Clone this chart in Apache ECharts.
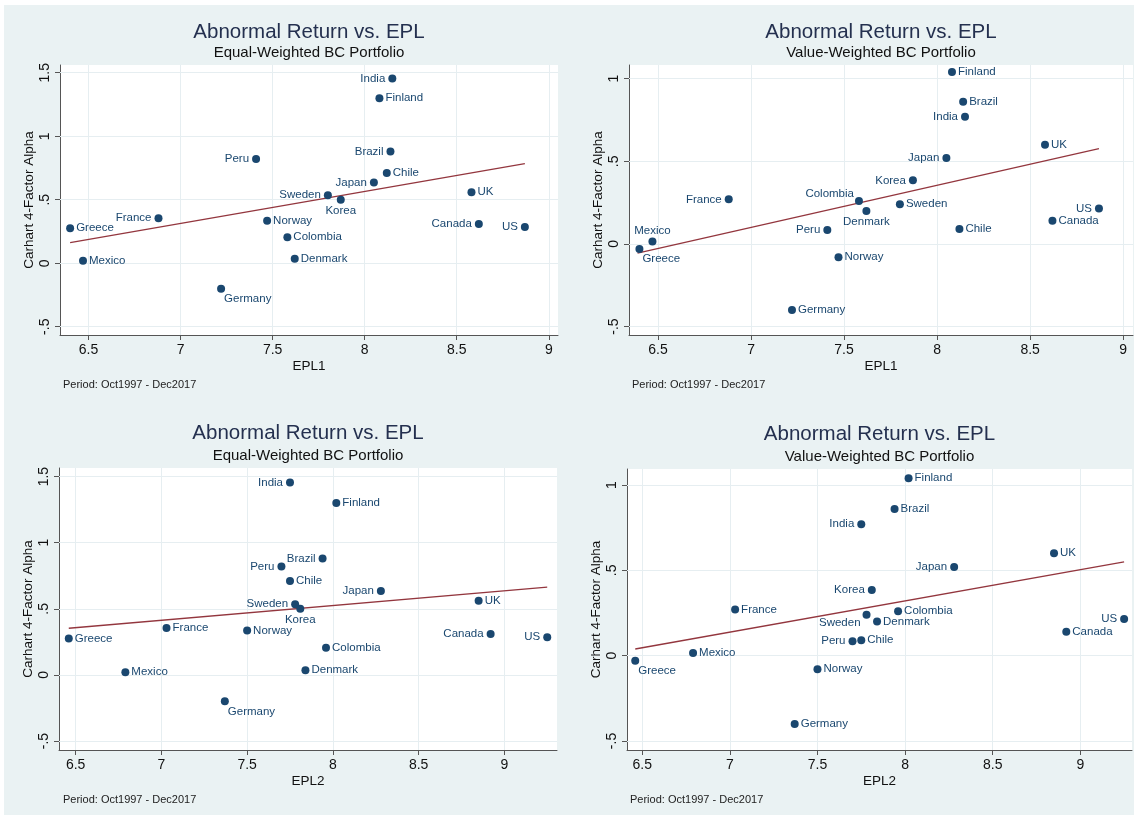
<!DOCTYPE html>
<html>
<head>
<meta charset="utf-8">
<script src="https://cdn.jsdelivr.net/npm/echarts@6/dist/echarts.min.js"></script>
<style>
html,body{margin:0;padding:0;background:#fff;}
#bg{position:absolute;left:4px;top:5px;width:1130px;height:810px;background:#eaf2f3;}
#chart{position:absolute;left:0;top:0;width:1138px;height:820px;}
</style>
</head>
<body>
<div id="bg"></div>
<div id="chart"></div>
<script>
// ---- data ----
const countries = ['India','Finland','Brazil','Peru','Chile','Japan','Sweden','Korea','UK','France','Norway','Greece','Canada','US','Colombia','Mexico','Denmark','Germany'];
const epl1 = [8.15, 8.08, 8.14, 7.41, 8.12, 8.05, 7.80, 7.87, 8.58, 6.88, 7.47, 6.40, 8.62, 8.87, 7.58, 6.47, 7.62, 7.22];
const epl2 = [7.75, 8.02, 7.94, 7.70, 7.75, 8.28, 7.78, 7.81, 8.85, 7.03, 7.50, 6.46, 8.92, 9.25, 7.96, 6.79, 7.84, 7.37];
const alphaEW = [1.455, 1.30, 0.88, 0.82, 0.71, 0.635, 0.535, 0.50, 0.56, 0.355, 0.335, 0.275, 0.31, 0.285, 0.205, 0.02, 0.035, -0.20];
const alphaVW = [0.77, 1.04, 0.86, 0.085, 0.09, 0.52, 0.24, 0.385, 0.60, 0.27, -0.08, -0.03, 0.14, 0.215, 0.26, 0.015, 0.20, -0.40];
// fitted lines (endpoints)
const fitEW1 = [[6.40, 0.162], [8.87, 0.784]];
const fitVW1 = [[6.39, -0.056], [8.87, 0.577]];
const fitEW2 = [[6.46, 0.353], [9.25, 0.664]];
const fitVW2 = [[6.46, 0.039], [9.25, 0.550]];
// tick labels
const xTicks = [6.5, 7, 7.5, 8, 8.5, 9];
const yTicksEW = [-0.5, 0, 0.5, 1, 1.5];
const yTicksVW = [-0.5, 0, 0.5, 1];
const titleText = 'Abnormal Return vs. EPL';
const subEW = 'Equal-Weighted BC Portfolio';
const subVW = 'Value-Weighted BC Portfolio';
const yName = 'Carhart 4-Factor Alpha';
const noteText = 'Period: Oct1997 - Dec2017';

// ---- label placement (style only) ----
const lp1 = {India:'L',Finland:'R',Brazil:'L',Peru:'L',Chile:'R',Japan:'L',Sweden:'L',Korea:'B',UK:'R',France:'L',Norway:'R',Greece:'R',Canada:'L',US:'L',Colombia:'R',Mexico:'R',Denmark:'R',Germany:'BR'};
const lp2 = {Finland:'R',Brazil:'R',India:'L',UK:'R',Japan:'L',Korea:'L',France:'L',Colombia:'TL',Denmark:'B',Sweden:'R',US:'L',Canada:'R',Chile:'R',Peru:'L',Mexico:'T',Greece:'BR',Norway:'R',Germany:'R'};
const lp3 = {India:'L',Finland:'R',Brazil:'L',Peru:'L',Chile:'R',Japan:'L',Sweden:'L',Korea:'B',UK:'R',France:'R',Norway:'R',Greece:'R',Canada:'L',US:'L',Colombia:'R',Mexico:'R',Denmark:'R',Germany:'BR'};
const lp4 = {Finland:'R',Brazil:'R',India:'L',UK:'R',Japan:'L',Korea:'L',France:'R',Colombia:'R',Sweden:'BL',Denmark:'R',US:'L',Canada:'R',Peru:'L',Chile:'R',Mexico:'R',Greece:'BR',Norway:'R',Germany:'R'};

const FONT = '"Liberation Sans", Arial, Helvetica, sans-serif';
const NAVY = '#1a476f';
const MAROON = '#93363e';
const GRIDC = '#e6eef1';
const SYM = 8;

function labelFor(code) {
  const h = SYM / 2;
  switch (code) {
    case 'R': return {position: 'right', distance: 2};
    case 'L': return {position: 'left', distance: 3};
    case 'B': return {position: 'bottom', distance: 1};
    case 'T': return {position: 'top', distance: 1};
    case 'BR': return {position: [h + 3, h + 10], align: 'left', verticalAlign: 'middle'};
    case 'BL': return {position: [h - 6, h + 8], align: 'right', verticalAlign: 'middle'};
    case 'TL': return {position: [h - 5, h - 7], align: 'right', verticalAlign: 'middle'};
  }
  return {position: 'right'};
}
function fmt(v) {
  let s = String(Math.round(v * 100) / 100);
  return s.replace(/^(-?)0\./, '$1.');
}

const panels = [
  {xs: epl1, ys: alphaEW, fit: fitEW1, lp: lp1, yt: yTicksEW, xname: 'EPL1', sub: subEW,
   grid: {left: 60, top: 65, width: 498, height: 270}, xr: [6.345, 9.05], yr: [-0.565, 1.561],
   titleY: 22, subY: 45.5, noteX: 63, noteY: 379.5},
  {xs: epl1, ys: alphaVW, fit: fitVW1, lp: lp2, yt: yTicksVW, xname: 'EPL1', sub: subVW,
   grid: {left: 629, top: 65, width: 504, height: 270}, xr: [6.344, 9.053], yr: [-0.551, 1.083],
   titleY: 21.5, subY: 45, noteX: 632, noteY: 379.5},
  {xs: epl2, ys: alphaEW, fit: fitEW2, lp: lp3, yt: yTicksEW, xname: 'EPL2', sub: subEW,
   grid: {left: 59, top: 468, width: 498, height: 282}, xr: [6.403, 9.307], yr: [-0.568, 1.565],
   titleY: 423, subY: 448.5, noteX: 63, noteY: 794},
  {xs: epl2, ys: alphaVW, fit: fitVW2, lp: lp4, yt: yTicksVW, xname: 'EPL2', sub: subVW,
   grid: {left: 627, top: 469, width: 505, height: 281}, xr: [6.413, 9.295], yr: [-0.553, 1.094],
   titleY: 424, subY: 449, noteX: 630, noteY: 794}
];

const option = {
  backgroundColor: 'transparent',
  animation: false,
  title: [], grid: [], xAxis: [], yAxis: [], series: []
};

panels.forEach((p, i) => {
  const cx = p.grid.left + p.grid.width / 2;
  option.title.push({text: titleText, left: cx, top: p.titleY, textAlign: 'center', padding: 0,
    textStyle: {fontFamily: FONT, fontSize: 20.5, fontWeight: 'normal', color: '#24304f'}});
  option.title.push({text: p.sub, left: cx, top: p.subY, textAlign: 'center', padding: 0,
    textStyle: {fontFamily: FONT, fontSize: 15, fontWeight: 'normal', color: '#111'}});
  option.title.push({text: noteText, left: p.noteX, top: p.noteY, padding: 0,
    textStyle: {fontFamily: FONT, fontSize: 11, fontWeight: 'normal', color: '#222'}});
  option.grid.push(Object.assign({show: true, backgroundColor: '#fff', borderWidth: 0}, p.grid));
  option.xAxis.push({
    gridIndex: i, type: 'value', min: p.xr[0], max: p.xr[1],
    name: p.xname, nameLocation: 'middle', nameGap: 24,
    nameTextStyle: {fontFamily: FONT, fontSize: 13.5, color: '#111'},
    axisLine: {show: true, onZero: false, lineStyle: {color: '#555', width: 1}},
    axisTick: {show: true, length: 5, customValues: xTicks, lineStyle: {color: '#555'}},
    axisLabel: {customValues: xTicks, formatter: fmt, fontFamily: FONT, fontSize: 14, color: '#111', margin: 8},
    splitLine: {show: false}
  });
  option.yAxis.push({
    gridIndex: i, type: 'value', min: p.yr[0], max: p.yr[1],
    name: yName, nameLocation: 'middle', nameGap: 24,
    nameTextStyle: {fontFamily: FONT, fontSize: 13.5, color: '#111'},
    axisLine: {show: true, onZero: false, lineStyle: {color: '#555', width: 1}},
    axisTick: {show: true, length: 5, customValues: p.yt, lineStyle: {color: '#555'}},
    axisLabel: {customValues: p.yt, formatter: fmt, rotate: 90, fontFamily: FONT, fontSize: 14, color: '#111', margin: 8},
    splitLine: {show: false}
  });
  // fitted line, carrying the gridlines as markLines
  option.series.push({
    type: 'line', xAxisIndex: i, yAxisIndex: i, data: p.fit, symbol: 'none', z: 3,
    lineStyle: {color: MAROON, width: 1.3}, silent: true,
    markLine: {
      silent: true, symbol: ['none', 'none'], label: {show: false}, z: 1,
      lineStyle: {color: GRIDC, type: 'solid', width: 1},
      emphasis: {disabled: true},
      data: xTicks.map(v => ({xAxis: v})).concat(p.yt.map(v => ({yAxis: v})))
    }
  });
  option.series.push({
    type: 'scatter', xAxisIndex: i, yAxisIndex: i, z: 5, symbolSize: SYM,
    itemStyle: {color: NAVY, opacity: 1},
    label: {show: true, formatter: '{b}', fontFamily: FONT, fontSize: 11.5, color: NAVY},
    data: countries.map((c, k) => ({name: c, value: [p.xs[k], p.ys[k]], label: labelFor(p.lp[c])}))
  });
});

const chart = echarts.init(document.getElementById('chart'), null, {renderer: 'canvas'});
chart.setOption(option);
</script>
</body>
</html>
